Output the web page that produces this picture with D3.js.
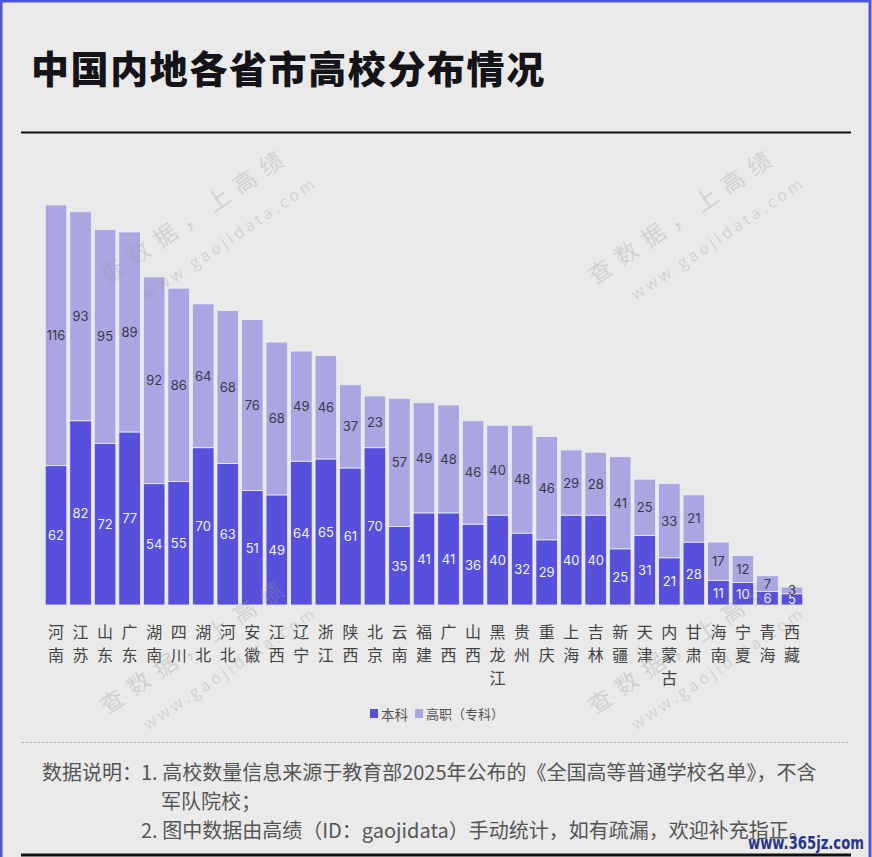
<!DOCTYPE html>
<html><head><meta charset="utf-8">
<script src="https://cdn.jsdelivr.net/npm/d3@7/dist/d3.min.js"></script>
<style>
html,body{margin:0;padding:0;background:#eaeaea;}
svg{display:block;}
</style></head>
<body>
<script>
const provinces = ["河南","江苏","山东","广东","湖南","四川","湖北","河北","安徽","江西","辽宁","浙江","陕西","北京","云南","福建","广西","山西","黑龙江","贵州","重庆","上海","吉林","新疆","天津","内蒙古","甘肃","海南","宁夏","青海","西藏"];
const benke  = [62,82,72,77,54,55,70,63,51,49,64,65,61,70,35,41,41,36,40,32,29,40,40,25,31,21,28,11,10,6,5];
const gaozhi = [116,93,95,89,92,86,64,68,76,68,49,46,37,23,57,49,48,46,40,48,46,29,28,41,25,33,21,17,12,7,3];
const seriesNames = ["本科","高职（专科）"];
const colors = ["#5650dc","#a9a6e2"];
const titleText = "中国内地各省市高校分布情况";
const noteLines = ["1. 高校数量信息来源于教育部2025年公布的《全国高等普通学校名单》，不含","军队院校；","2. 图中数据由高绩（ID：gaojidata）手动统计，如有疏漏，欢迎补充指正。"];

const W = 872, H = 857;
const svg = d3.select("body").append("svg").attr("width", W).attr("height", H);
svg.append("rect").attr("width", W).attr("height", H).attr("fill", "#eaeaea");

const cjk = "'Noto Sans CJK SC','Noto Sans',sans-serif";

// title
svg.append("text").attr("x", 31).attr("y", 66).attr("dominant-baseline", "central")
  .attr("font-family", cjk).attr("font-weight", 900).attr("font-size", 38)
  .attr("letter-spacing", 1.6).attr("fill", "#141418").text(titleText);
svg.append("line").attr("x1", 21).attr("x2", 851).attr("y1", 132.5).attr("y2", 132.5)
  .attr("stroke", "#111").attr("stroke-width", 2);

// data
const data = provinces.map((p, i) => ({p, b: benke[i], g: gaozhi[i]}));
const stack = d3.stack().keys(["b","g"])(data);

const x = d3.scaleBand().domain(provinces).range([44, 804]).paddingInner(0.12).paddingOuter(0.05);
const y = d3.scaleLinear().domain([0, d3.max(data, d => d.b + d.g)]).range([605, 205]);

const g = svg.append("g");
stack.forEach((layer, li) => {
  g.selectAll(null).data(layer).join("rect")
    .attr("x", d => x(d.data.p))
    .attr("width", x.bandwidth())
    .attr("y", d => y(d[1]))
    .attr("height", d => y(d[0]) - y(d[1]))
    .attr("fill", colors[li])
    .attr("stroke", "#eeeef6").attr("stroke-width", 0.8);
  g.selectAll(null).data(layer).join("text")
    .attr("x", d => x(d.data.p) + x.bandwidth() / 2)
    .attr("y", d => (y(d[0]) + y(d[1])) / 2)
    .attr("text-anchor", "middle").attr("dominant-baseline", "central")
    .attr("font-family", "Inter,'Open Sans',sans-serif").attr("font-size", 13)
    .attr("fill", li === 0 ? "#f2f2fb" : "#3a3a48")
    .text(d => d[1] - d[0]);
});

// category labels (vertical)
const cat = svg.append("g");
provinces.forEach(p => {
  Array.from(p).forEach((ch, k) => {
    cat.append("text").attr("x", x(p) + x.bandwidth() / 2).attr("y", 631 + k * 23)
      .attr("text-anchor", "middle").attr("dominant-baseline", "central")
      .attr("font-family", cjk).attr("font-size", 16).attr("fill", "#444").text(ch);
  });
});

// legend
const lg = svg.append("g");
lg.append("rect").attr("x", 370).attr("y", 709).attr("width", 8).attr("height", 9).attr("fill", colors[0]);
lg.append("text").attr("x", 381).attr("y", 713.5).attr("dominant-baseline", "central")
  .attr("font-family", cjk).attr("font-size", 13.5).attr("fill", "#555").text(seriesNames[0]);
lg.append("rect").attr("x", 415).attr("y", 709).attr("width", 8).attr("height", 9).attr("fill", colors[1]);
lg.append("text").attr("x", 426).attr("y", 713.5).attr("dominant-baseline", "central")
  .attr("font-family", cjk).attr("font-size", 13).attr("fill", "#555").text(seriesNames[1]);

// dotted divider
svg.append("line").attr("x1", 22).attr("x2", 850).attr("y1", 742.5).attr("y2", 742.5)
  .attr("stroke", "#aaa").attr("stroke-width", 1).attr("stroke-dasharray", "2,2");

// notes
const notes = svg.append("g").attr("font-family", cjk).attr("font-size", 20).attr("fill", "#555");
notes.append("text").attr("x", 42).attr("y", 771).attr("dominant-baseline", "central").text("数据说明：");
notes.append("text").attr("x", 141).attr("y", 771).attr("dominant-baseline", "central").text(noteLines[0]);
notes.append("text").attr("x", 161).attr("y", 800).attr("dominant-baseline", "central").text(noteLines[1]);
notes.append("text").attr("x", 141).attr("y", 829).attr("dominant-baseline", "central").text(noteLines[2]);

// bottom line
svg.append("line").attr("x1", 21).attr("x2", 851).attr("y1", 855).attr("y2", 855)
  .attr("stroke", "#111").attr("stroke-width", 3);

// watermarks
const wmPos = [[200,222],[688,222],[200,652],[688,652]];
wmPos.forEach(([cx, cy]) => {
  const w = svg.append("g").attr("transform", `translate(${cx},${cy}) rotate(-34)`)
    .attr("fill", "#9a9a9a").attr("opacity", 0.3).attr("font-family", cjk);
  w.append("text").attr("text-anchor", "middle").attr("font-size", 23).attr("letter-spacing", 9).text("查数据，上高绩");
  w.append("text").attr("y", 36).attr("x", 16).attr("text-anchor", "middle").attr("font-size", 16)
    .attr("letter-spacing", 3.5).attr("font-family", "'Open Sans',sans-serif").text("www.gaojidata.com");
});

svg.append("text").attr("x", 748).attr("y", 842).attr("dominant-baseline", "central")
  .attr("font-family", "'DejaVu Sans Condensed','Liberation Sans',sans-serif").attr("font-weight", "bold")
  .attr("font-size", 18).attr("textLength", 116).attr("lengthAdjust", "spacingAndGlyphs")
  .attr("fill", "#27348b").text("www.365jz.com");

// frame
svg.append("rect").attr("x", 1).attr("y", 1).attr("width", W - 3).attr("height", H + 5)
  .attr("fill", "none").attr("stroke", "#4f56d6").attr("stroke-width", 3);
</script>
</body></html>
